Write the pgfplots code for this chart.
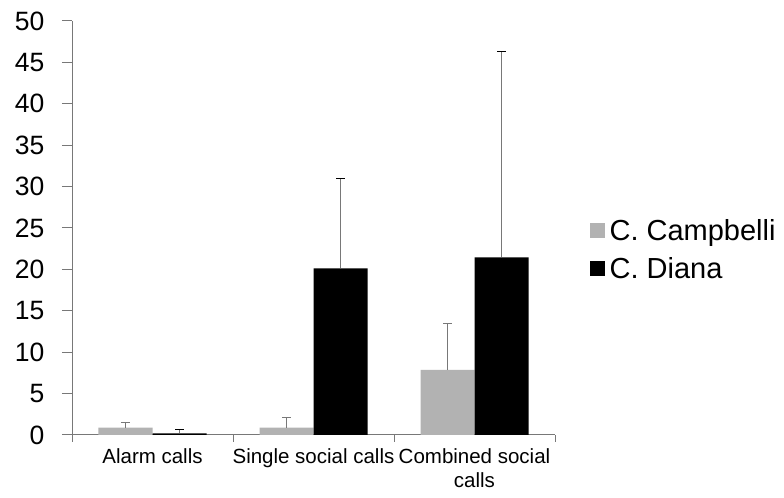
\documentclass[border=0pt]{standalone}
\usepackage{pgfplots}
\pgfplotsset{compat=1.18}
\usepackage{fontspec}
\setmainfont{Liberation Sans}
\definecolor{bargray}{RGB}{178,178,178}
\definecolor{axisgray}{RGB}{120,120,120}
\begin{document}
\begin{tikzpicture}
\begin{axis}[
  scale only axis, width=483pt, height=414pt,
  ymin=0, ymax=50, ytick={0,5,...,50},
  xmin=-0.5, xmax=2.5,
  xtick={0,1,2},
  xticklabels={Alarm calls, Single social calls, {Combined social\\calls}},
  xticklabel style={align=center, font=\fontsize{20.5}{24}\selectfont},
  yticklabel style={font=\fontsize{26.5}{30}\selectfont, xshift=-14pt},
  /pgf/number format/assume math mode=true,
  major x tick style={draw=none},
  minor xtick={-0.5,0.5,1.5,2.5},
  minor tick length=7pt,
  major tick length=10pt,
  tick align=outside,
  tick style={axisgray, line width=1pt},
  axis lines*=left,
  axis line style={axisgray, line width=1pt},
  ybar=0pt, bar width=54pt,
  legend style={at={(1.065,0.447)}, anchor=west, draw=none,
    font=\fontsize{29}{32}\selectfont, row sep=11pt},
  legend cell align=left,
  legend image code/.code={\fill[#1] (0pt,-7pt) rectangle (15pt,8pt);},
]
\addplot[fill=bargray, draw=none, error bars/.cd, y dir=plus, y explicit,
  error bar style={axisgray, line width=1pt}, error mark options={rotate=90, axisgray, line width=1pt, mark size=4.5pt}]
  coordinates {(0,0.88) +- (0,0.65) (1,0.88) +- (0,1.29) (2,7.85) +- (0,5.59)};
\addplot[fill=black, draw=none, error bars/.cd, y dir=plus, y explicit,
  error bar style={axisgray, line width=1pt}, error mark options={rotate=90, black, line width=1pt, mark size=4.5pt}]
  coordinates {(0,0.20) +- (0,0.44) (1,20.13) +- (0,10.87) (2,21.46) +- (0,24.88)};
\legend{\hspace{3pt}C. Campbelli, \hspace{3pt}C. Diana}
\coordinate (o) at (rel axis cs:0,0);
\coordinate (t) at (rel axis cs:1,1);
\end{axis}
\pgfresetboundingbox
\path ([xshift=-72pt,yshift=-63pt]o) rectangle ([xshift=229pt,yshift=21pt]t);
\end{tikzpicture}
\end{document}
